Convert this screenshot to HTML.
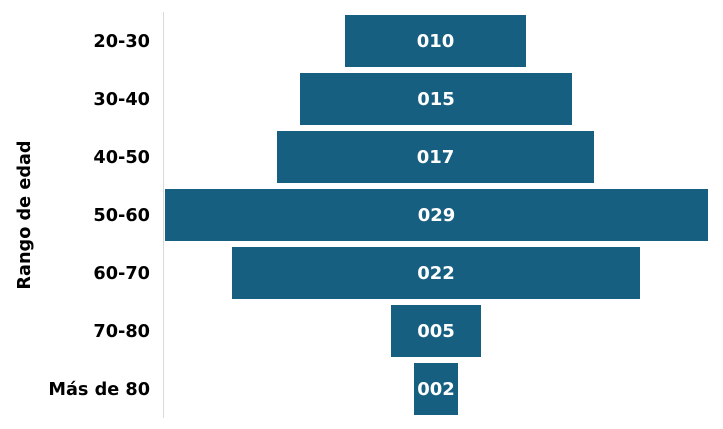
<!DOCTYPE html>
<html><head><style>
body{margin:0;width:723px;height:429px;background:#fff;position:relative;overflow:hidden;font-family:"DejaVu Sans",sans-serif;}
.b{position:absolute;background:#175f80;color:#fff;font-weight:bold;font-size:18px;display:flex;align-items:center;justify-content:center;height:52px;padding-top:1px;box-sizing:border-box;}
.l{position:absolute;right:573px;font-weight:bold;font-size:17.7px;color:#000;height:52px;line-height:54px;white-space:nowrap;}
.ax{position:absolute;left:163px;top:12px;width:1px;height:406px;background:#d9d9d9;}
.yt{position:absolute;left:25px;top:215px;transform:translate(-50%,-50%) rotate(-90deg);font-weight:bold;font-size:17.7px;white-space:nowrap;}
</style></head><body>
<div class="ax"></div>
<div class="yt">Rango de edad</div>
<div class="l" style="top:15px">20-30</div>
<div class="l" style="top:73px">30-40</div>
<div class="l" style="top:131px">40-50</div>
<div class="l" style="top:189px">50-60</div>
<div class="l" style="top:247px">60-70</div>
<div class="l" style="top:305px">70-80</div>
<div class="l" style="top:363px">Más de 80</div>
<div class="b" style="left:345px;width:181px;top:15px">010</div>
<div class="b" style="left:300px;width:272px;top:73px">015</div>
<div class="b" style="left:277px;width:317px;top:131px">017</div>
<div class="b" style="left:165px;width:543px;top:189px">029</div>
<div class="b" style="left:232px;width:408px;top:247px">022</div>
<div class="b" style="left:391px;width:90px;top:305px">005</div>
<div class="b" style="left:414px;width:44px;top:363px">002</div>
</body></html>
